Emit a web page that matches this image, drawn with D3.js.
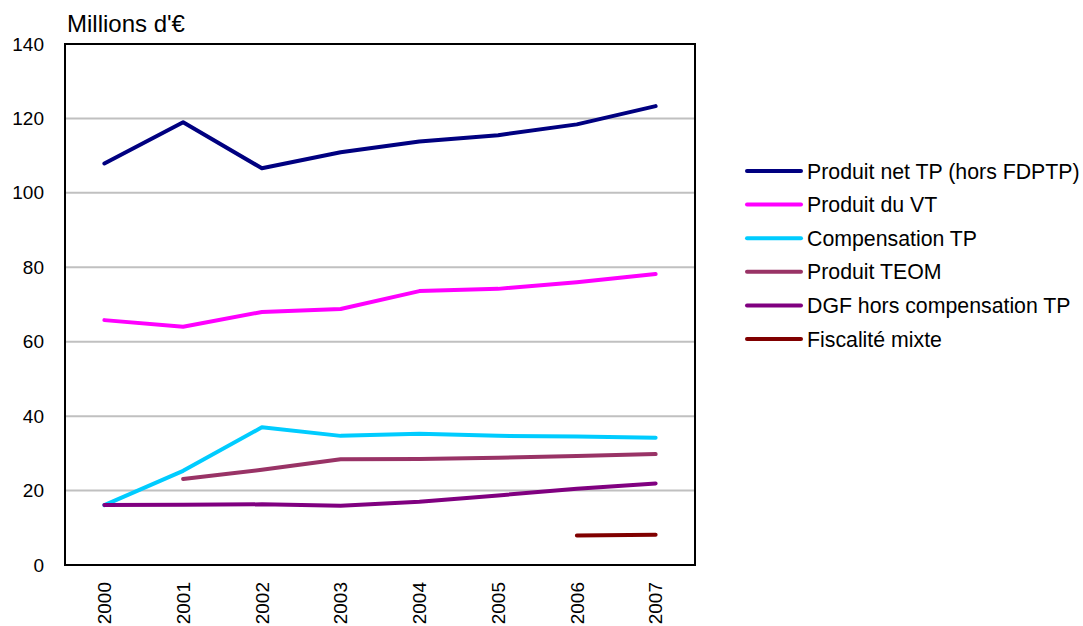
<!DOCTYPE html>
<html>
<head>
<meta charset="utf-8">
<script src="https://cdn.jsdelivr.net/npm/d3@7"></script>
<style>
  html, body { margin: 0; padding: 0; background: #fff; }
  svg { display: block; font-family: "Liberation Sans", Arial, sans-serif; }
</style>
</head>
<body>
<svg id="chart" width="1083" height="626"></svg>
<script>
// Years on the category axis
const years = ["2000", "2001", "2002", "2003", "2004", "2005", "2006", "2007"];

// Series values, millions of euros (null = no data that year)
const produitNetTP   = [107.9, 119.0, 106.6, 110.9, 113.8, 115.5, 118.4, 123.3];
const produitVT      = [65.8, 64.0, 68.0, 68.8, 73.6, 74.2, 76.0, 78.2];
const compensationTP = [16.1, 25.3, 37.0, 34.7, 35.3, 34.7, 34.5, 34.2];
const produitTEOM    = [null, 23.1, 25.6, 28.4, 28.5, 28.8, 29.3, 29.8];
const dgfHorsComp    = [16.1, 16.2, 16.3, 15.9, 17.0, 18.7, 20.5, 21.9];
const fiscaliteMixte = [null, null, null, null, null, null, 7.9, 8.1];

const seriesNames = [
  "Produit net TP (hors FDPTP)",
  "Produit du VT",
  "Compensation TP",
  "Produit TEOM",
  "DGF hors compensation TP",
  "Fiscalité mixte"
];
const seriesColors = ["#000080", "#FF00FF", "#00CCFF", "#993366", "#800080", "#800000"];

const yTicks = [0, 20, 40, 60, 80, 100, 120, 140];
const yTitle = "Millions d'€";

const series = [produitNetTP, produitVT, compensationTP, produitTEOM, dgfHorsComp, fiscaliteMixte]
  .map((vals, i) => ({ name: seriesNames[i], color: seriesColors[i], values: vals }));

const svg = d3.select("#chart");
const plot = { left: 65, top: 44, right: 695, bottom: 565 };

const x = d3.scaleBand().domain(years).range([plot.left, plot.right]);
const y = d3.scaleLinear().domain([0, 140]).range([plot.bottom, plot.top]);

// Horizontal gridlines
svg.append("g")
  .selectAll("line")
  .data(yTicks.filter(t => t > 0 && t < 140))
  .join("line")
  .attr("x1", plot.left).attr("x2", plot.right)
  .attr("y1", d => y(d)).attr("y2", d => y(d))
  .attr("stroke", "#c0c0c0").attr("stroke-width", 2);

// Y axis labels
const yAxis = svg.append("g")
  .attr("transform", `translate(${plot.left},0)`)
  .call(d3.axisLeft(y).tickValues(yTicks).tickSize(0).tickPadding(21));
yAxis.select(".domain").remove();
yAxis.selectAll("text")
  .attr("font-size", 19).attr("fill", "#000")
  .attr("font-family", "'Liberation Sans', Arial, sans-serif");

// X axis labels, rotated
const xAxis = svg.append("g")
  .attr("transform", `translate(0,${plot.bottom})`)
  .call(d3.axisBottom(x).tickSize(0));
xAxis.select(".domain").remove();
xAxis.selectAll("text")
  .attr("font-size", 19).attr("fill", "#000")
  .attr("font-family", "'Liberation Sans', Arial, sans-serif")
  .attr("text-anchor", "end")
  .attr("dy", "0.35em")
  .attr("transform", "translate(0,17) rotate(-90)")
  .attr("x", 0).attr("y", 0);

// Series lines
const line = d3.line()
  .defined(d => d.v != null)
  .x(d => x(d.year) + x.bandwidth() / 2)
  .y(d => y(d.v));

svg.append("g")
  .selectAll("path")
  .data(series)
  .join("path")
  .attr("d", s => line(s.values.map((v, i) => ({ year: years[i], v }))))
  .attr("fill", "none")
  .attr("stroke", s => s.color)
  .attr("stroke-width", 4)
  .attr("stroke-linejoin", "round")
  .attr("stroke-linecap", "round");

// Plot frame
svg.append("rect")
  .attr("x", plot.left).attr("y", plot.top)
  .attr("width", plot.right - plot.left).attr("height", plot.bottom - plot.top)
  .attr("fill", "none").attr("stroke", "#000").attr("stroke-width", 2);

// Axis title
svg.append("text")
  .attr("x", 67).attr("y", 32)
  .attr("font-size", 24).attr("fill", "#000")
  .text(yTitle);

// Legend
const legend = svg.append("g");
const rows = legend.selectAll("g")
  .data(series)
  .join("g")
  .attr("transform", (d, i) => `translate(747,${171 + i * 33.6})`);
rows.append("line")
  .attr("x1", 0).attr("x2", 54).attr("y1", 0).attr("y2", 0)
  .attr("stroke", d => d.color).attr("stroke-width", 4)
  .attr("stroke-linecap", "round");
rows.append("text")
  .attr("x", 60).attr("y", 0).attr("dy", "0.36em")
  .attr("font-size", 21.3).attr("fill", "#000")
  .text(d => d.name);
</script>
</body>
</html>
